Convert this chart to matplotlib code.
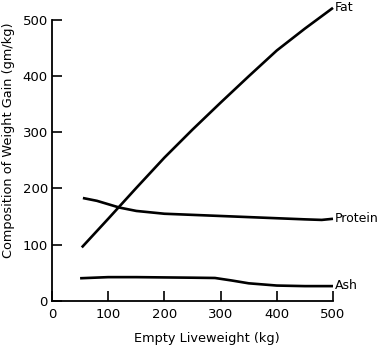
import matplotlib
matplotlib.use("Agg")
from matplotlib import pyplot as plt
import numpy as np

# values (empty liveweight kg -> gm/kg of gain)
fat_x = [53, 100, 150, 200, 250, 300, 350, 400, 450, 500]
fat_y = [95, 146, 201, 255, 305, 353, 400, 446, 485, 522]

protein_x = [55, 80, 100, 120, 150, 200, 250, 300, 350, 400, 450, 480, 500]
protein_y = [183, 178, 172, 166, 160, 155, 153, 151, 149, 147, 145, 144, 146]

ash_x = [50, 100, 150, 200, 250, 290, 320, 350, 400, 450, 500]
ash_y = [40, 42, 42, 41.5, 41, 40.5, 36, 31, 27, 26, 26]

labels = ["Fat", "Protein", "Ash"]
ticks = [0, 100, 200, 300, 400, 500]

plt.rcParams['font.family'] = ['DejaVu Sans']

fig = plt.figure(figsize=(3.79, 3.45), dpi=100)
ax = fig.add_axes([0.1372, 0.1284, 0.7414, 0.870])

lw = 1.9
for xs, ys, name in zip([fat_x, protein_x, ash_x], [fat_y, protein_y, ash_y], labels):
    ax.plot(xs, ys, color="black", linewidth=lw, solid_capstyle="butt", clip_on=False)
    ax.text(xs[-1] + 4, ys[-1] + 1, name, ha="left", va="center", fontsize=9, clip_on=False)

ax.set_xlim(0, 500)
ax.set_ylim(0, 535)
ax.spines['top'].set_visible(False)
ax.spines['right'].set_visible(False)
ax.spines['left'].set_bounds(0, 500)
ax.spines['left'].set_linewidth(1.3)
ax.spines['bottom'].set_linewidth(1.3)

ax.set_xticks(ticks)
ax.set_yticks(ticks)
ax.tick_params(direction="in", length=7, width=1.2, labelsize=9.5, pad=3)
ax.tick_params(axis="x", pad=5)

ax.set_xlabel("Empty Liveweight (kg)", fontsize=9.3)
ax.set_ylabel("Composition of Weight Gain (gm/kg)", fontsize=9.3)
ax.xaxis.set_label_coords(0.55, -0.105)
ax.yaxis.set_label_coords(-0.132, 0.535)

fig.savefig("out.png", dpi=100)
